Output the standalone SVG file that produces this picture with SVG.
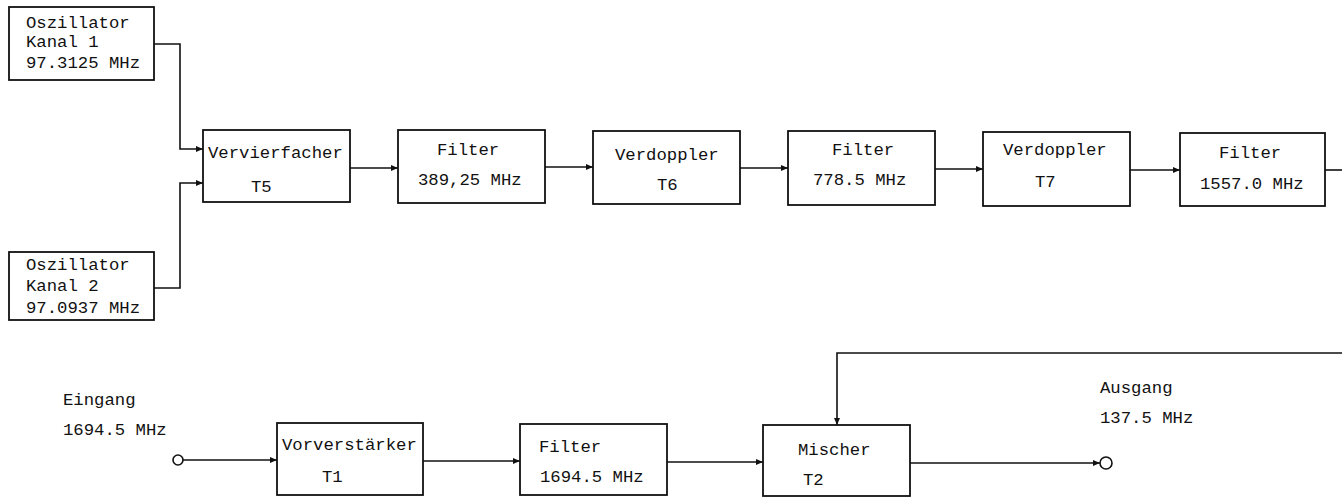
<svg xmlns="http://www.w3.org/2000/svg" width="1342" height="497" viewBox="0 0 1342 497">
<style>
.box{fill:#fff;stroke:#111;stroke-width:1.8}
.t{font-family:"Liberation Mono","DejaVu Sans Mono",monospace;font-size:17.3px;fill:#111}
.w{fill:none;stroke:#111;stroke-width:1.6}
.a{marker-end:url(#arr)}
</style>
<defs>
<marker id="arr" markerUnits="userSpaceOnUse" markerWidth="8" markerHeight="8" refX="7" refY="4" orient="auto">
<path d="M0,1 L7,4 L0,7 Z" fill="#111"/>
</marker>
</defs>
<rect width="1342" height="497" fill="#fff"/>
<g id="connectors">
<path class="w a" d="M154,44 H180 V149 H203"/>
<path class="w a" d="M154,288 H180 V183 H203"/>
<path class="w a" d="M350,168 H398"/>
<path class="w a" d="M545,167 H593"/>
<path class="w a" d="M740,168 H788"/>
<path class="w a" d="M935,169 H983"/>
<path class="w a" d="M1130,170 H1180"/>
<path class="w" d="M1325,170 H1342"/>
<path class="w a" d="M1342,353 H837 V425"/>
<circle class="w" cx="178" cy="460" r="5"/>
<path class="w a" d="M183,460 H277"/>
<path class="w a" d="M423,461 H520"/>
<path class="w a" d="M667,462 H763"/>
<path class="w a" d="M910,463 H1100"/>
<circle class="w" cx="1106" cy="463" r="6"/>
</g>
<g id="osc1">
<rect class="box" x="9" y="7" width="145" height="73"/>
<text class="t" x="26" y="28">Oszillator</text>
<text class="t" x="26" y="47">Kanal 1</text>
<text class="t" x="26" y="68">97.3125 MHz</text>
</g>
<g id="osc2">
<rect class="box" x="9" y="252" width="145" height="68"/>
<text class="t" x="26" y="270">Oszillator</text>
<text class="t" x="26" y="291">Kanal 2</text>
<text class="t" x="26" y="313">97.0937 MHz</text>
</g>
<g id="vervierfacher">
<rect class="box" x="203" y="130" width="147" height="72"/>
<text class="t" x="208" y="158">Vervierfacher</text>
<text class="t" x="251" y="192">T5</text>
</g>
<g id="filter1">
<rect class="box" x="398" y="130" width="147" height="73"/>
<text class="t" x="437" y="155">Filter</text>
<text class="t" x="418" y="185">389,25 MHz</text>
</g>
<g id="verdoppler1">
<rect class="box" x="593" y="131" width="147" height="73"/>
<text class="t" x="615" y="160">Verdoppler</text>
<text class="t" x="657" y="190">T6</text>
</g>
<g id="filter2">
<rect class="box" x="788" y="131" width="147" height="74"/>
<text class="t" x="832" y="155">Filter</text>
<text class="t" x="813" y="185">778.5 MHz</text>
</g>
<g id="verdoppler2">
<rect class="box" x="983" y="132" width="147" height="74"/>
<text class="t" x="1003" y="155">Verdoppler</text>
<text class="t" x="1035" y="187">T7</text>
</g>
<g id="filter3">
<rect class="box" x="1180" y="133" width="145" height="73"/>
<text class="t" x="1219" y="158">Filter</text>
<text class="t" x="1200" y="189">1557.0 MHz</text>
</g>
<g id="eingang">
<text class="t" x="63" y="405">Eingang</text>
<text class="t" x="63" y="435">1694.5 MHz</text>
</g>
<g id="vorverstaerker">
<rect class="box" x="277" y="423" width="146" height="72"/>
<text class="t" x="282" y="450">Vorverstärker</text>
<text class="t" x="322" y="482">T1</text>
</g>
<g id="filter4">
<rect class="box" x="520" y="424" width="147" height="71"/>
<text class="t" x="539" y="452">Filter</text>
<text class="t" x="540" y="482">1694.5 MHz</text>
</g>
<g id="mischer">
<rect class="box" x="763" y="425" width="147" height="71"/>
<text class="t" x="798" y="455">Mischer</text>
<text class="t" x="803" y="485">T2</text>
</g>
<g id="ausgang">
<text class="t" x="1100" y="393">Ausgang</text>
<text class="t" x="1100" y="423">137.5 MHz</text>
</g>
</svg>
